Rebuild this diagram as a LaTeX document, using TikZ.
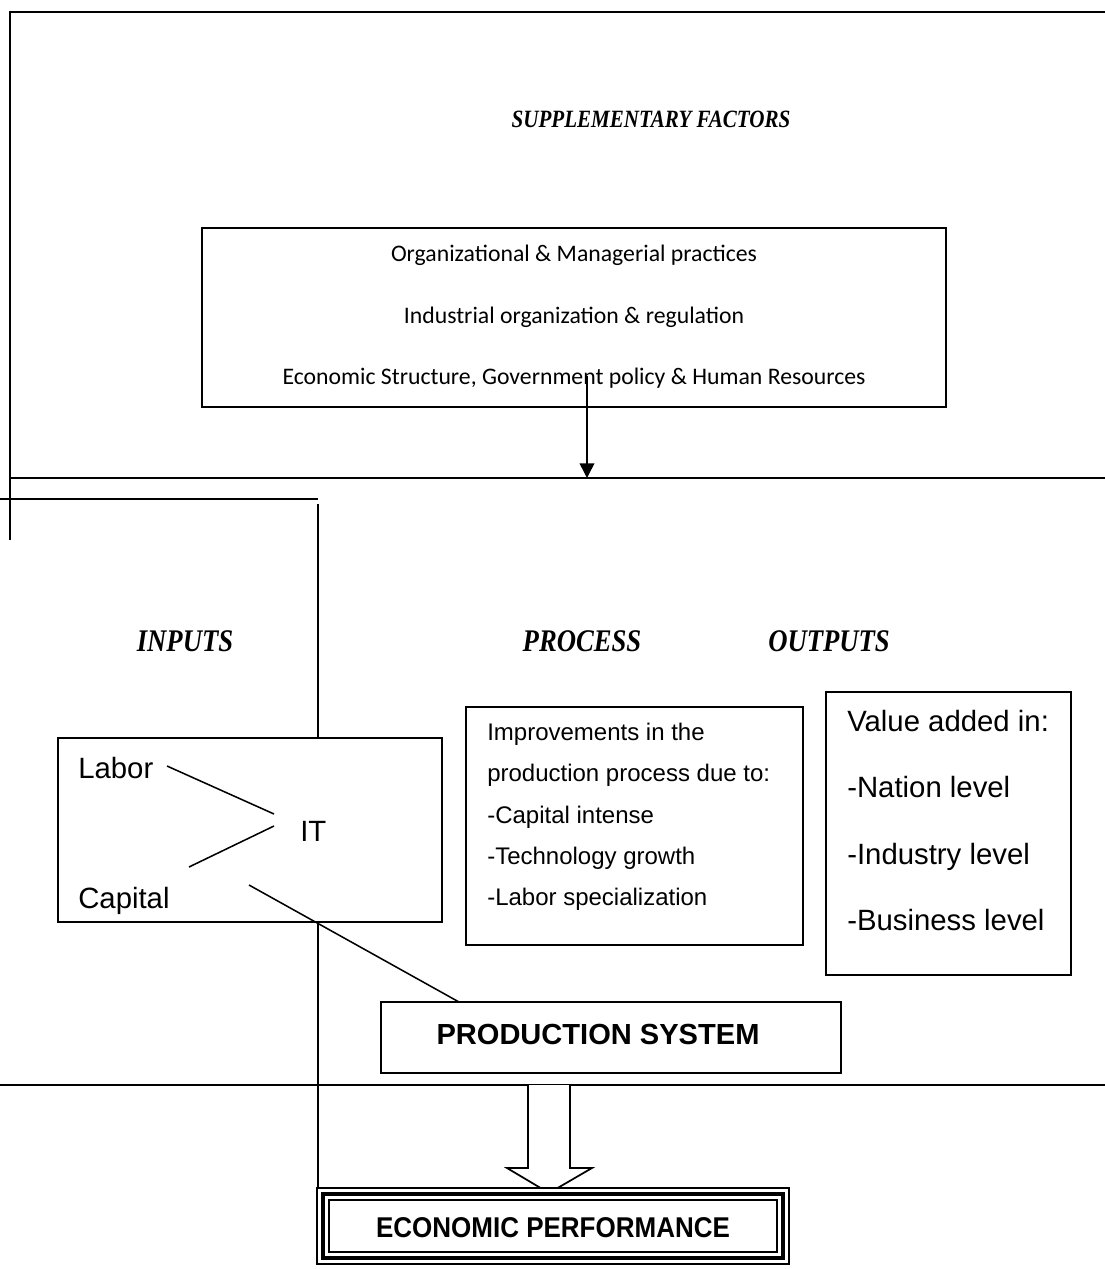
\documentclass[tikz,border=0pt]{standalone}
\usepackage{fontspec}
\setmainfont{Liberation Serif}
\newfontfamily\arialf{Liberation Sans}
\newfontfamily\calf{Carlito}
\usetikzlibrary{arrows.meta}
\newcommand{\tallhd}[1]{\scalebox{1}[1.18]{#1}}
\begin{document}
\begin{tikzpicture}[x=0.75pt,y=-0.75pt,
  frameline/.style={line width=1.5pt},
  boxline/.style={line width=1.3pt},
  thinline/.style={line width=1.15pt},
  boxnode/.style={draw,boxline,inner sep=0pt,outer sep=0pt,fill=white},
  heading/.style={font=\fontsize{20}{24}\selectfont\bfseries\itshape,anchor=base,inner sep=0pt},
  supptext/.style={font=\calf\fontsize{17.8}{21}\selectfont,anchor=base,inner sep=0pt},
  bigsans/.style={font=\arialf\fontsize{22}{26}\selectfont,anchor=base west,inner sep=0pt},
  procsans/.style={font=\arialf\fontsize{18}{22}\selectfont,anchor=base west,inner sep=0pt}
]
\useasboundingbox (0,0) rectangle (1104,1269);

% outer frame lines
\coordinate (ftl) at (10,12);
\coordinate (ftr) at (1110,12);
\coordinate (fbl) at (10,540);
\coordinate (hl1a) at (10,478);
\coordinate (hl1b) at (1110,478);
\coordinate (hl2a) at (0,499);
\coordinate (hl2b) at (318,499);
\coordinate (vl1a) at (318,504);
\coordinate (hl3a) at (0,1085);
\coordinate (hl3b) at (1110,1085);
\coordinate (vl2b) at (318,1192);

\draw[frameline] (fbl) -- (ftl) -- (ftr);
\draw[frameline] (hl1a) -- (hl1b);
\draw[frameline] (hl2a) -- (hl2b);
\draw[boxline] (hl3a) -- (hl3b);

% supplementary
\node[heading,font=\fontsize{15.8}{19}\selectfont\bfseries\itshape] (supp) at (651,128) {\tallhd{SUPPLEMENTARY FACTORS}};
\node[boxnode,minimum width=558pt,minimum height=134.25pt] (suppbox) at (574,317.5) {};
\node[supptext] (s1) at (574,262) {Organizational \& Managerial practices};
\node[supptext] (s2) at (574,323) {Industrial organization \& regulation};
\node[supptext] (s3) at (574,384) {Economic Structure, Government policy \& Human Resources};
\coordinate (arrS) at (587,376);
\coordinate (arrE) at (587,478);
\draw[thinline,-{Triangle[width=11pt,length=11pt]}] (arrS) -- (arrE);

% headings
\node[heading] (inputs) at (185,651) {\tallhd{INPUTS}};
\node[heading] (process) at (582,651) {\tallhd{PROCESS}};
\node[heading] (outputs) at (829,651) {\tallhd{OUTPUTS}};

% inputs box
\node[boxnode,minimum width=288pt,minimum height=138pt] (inbox) at (250,830) {};
\draw[frameline] (vl1a) -- (inbox.north -| vl1a);
\draw[frameline] (inbox.south -| vl1a) -- (vl2b);
\node[bigsans] (labor) at (78,778) {Labor};
\node[bigsans] (it) at (300,841) {IT};
\node[bigsans] (capital) at (78,908) {Capital};
\coordinate (l1a) at (167,766);
\coordinate (l1b) at (274,814);
\coordinate (l2a) at (274,826);
\coordinate (l2b) at (189,867);
\coordinate (l3a) at (249,885);
\draw[thinline] (l1a) -- (l1b);
\draw[thinline] (l2a) -- (l2b);

% process box
\node[boxnode,minimum width=252.75pt,minimum height=178.5pt] (procbox) at (634.5,826) {};
\node[procsans] (p1) at (487,740) {Improvements in the};
\node[procsans] (p2) at (487,781) {production process due to:};
\node[procsans] (p3) at (487,823) {-Capital intense};
\node[procsans] (p4) at (487,864) {-Technology growth};
\node[procsans] (p5) at (487,905) {-Labor specialization};

% outputs box
\node[boxnode,minimum width=183.75pt,minimum height=212.25pt] (outbox) at (948.5,833.5) {};
\node[bigsans] (o1) at (847,731) {Value added in:};
\node[bigsans] (o2) at (847,797) {-Nation level};
\node[bigsans] (o3) at (847,864) {-Industry level};
\node[bigsans] (o4) at (847,930) {-Business level};

% production system
\node[boxnode,minimum width=345pt,minimum height=53.25pt] (prod) at (611,1037.5) {};
\node[font=\arialf\fontsize{21.8}{25}\selectfont\bfseries,anchor=base,inner sep=0pt] (prodtxt) at (598,1044) {PRODUCTION SYSTEM};
\coordinate (l3b) at (459,1002);
\draw[thinline] (l3a) -- (l3b);

% block arrow
\draw[boxline,fill=white] (528,1085) -- (528,1168) -- (507,1168) -- (549,1193) -- (592,1168) -- (570,1168) -- (570,1085);

% economic performance
\node[draw,thinline,inner sep=0pt,minimum width=354pt,minimum height=57pt,fill=white] (econ) at (553,1226) {};
\node[draw,line width=3.2pt,inner sep=0pt,minimum width=345pt,minimum height=48pt] (econmid) at (553,1226) {};
\node[draw,thinline,inner sep=0pt,minimum width=336pt,minimum height=39pt] (econin) at (553,1226) {};
\node[font=\arialf\fontsize{19.5}{23}\selectfont\bfseries,anchor=base,inner sep=0pt] (econtxt) at (553,1237) {\scalebox{1}[1.1]{ECONOMIC PERFORMANCE}};
\end{tikzpicture}
\end{document}
